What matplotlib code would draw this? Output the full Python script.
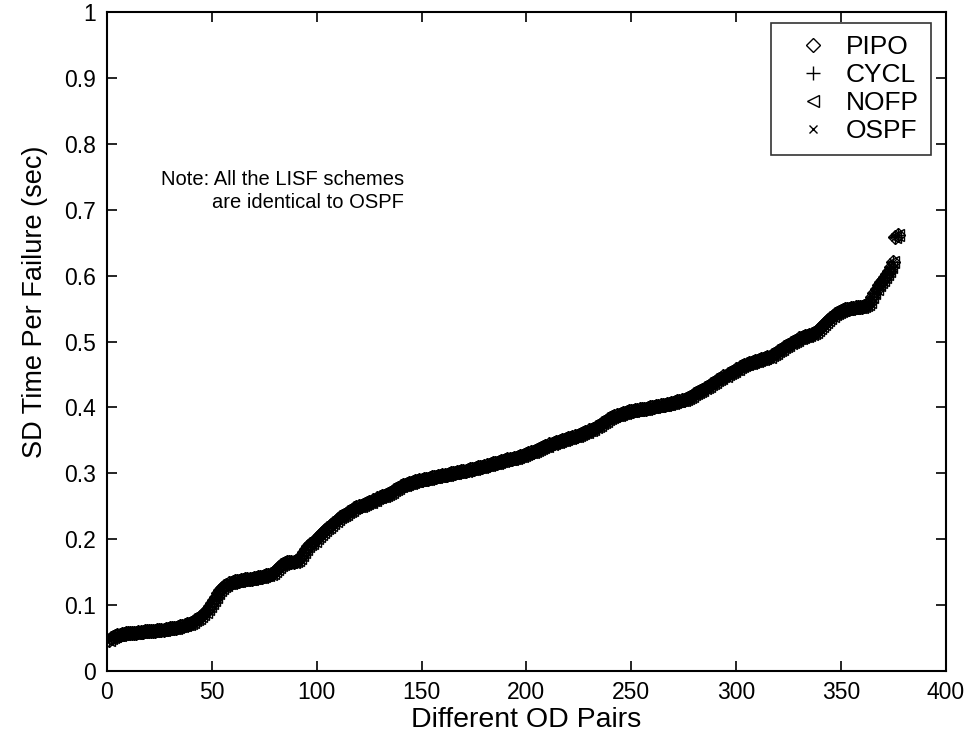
import matplotlib
matplotlib.use("Agg")
import matplotlib.pyplot as plt
import numpy as np

plt.rcParams['font.family'] = ['Liberation Sans', 'DejaVu Sans']

# sorted SD time per failure for each OD pair (sec)
sd_time = [
    0.047, 0.050, 0.052, 0.053, 0.054, 0.055, 0.056, 0.056, 0.057, 0.057,
    0.057, 0.058, 0.058, 0.058, 0.059, 0.059, 0.059, 0.060, 0.060, 0.060,
    0.061, 0.061, 0.061, 0.062, 0.062, 0.063, 0.063, 0.064, 0.064, 0.065,
    0.065, 0.066, 0.066, 0.067, 0.068, 0.069, 0.070, 0.071, 0.072, 0.073,
    0.075, 0.077, 0.079, 0.081, 0.084, 0.087, 0.090, 0.094, 0.098, 0.103,
    0.108, 0.113, 0.118, 0.123, 0.126, 0.129, 0.131, 0.133, 0.134, 0.135,
    0.136, 0.137, 0.137, 0.138, 0.138, 0.139, 0.139, 0.140, 0.140, 0.141,
    0.141, 0.142, 0.143, 0.143, 0.144, 0.145, 0.146, 0.147, 0.149, 0.152,
    0.155, 0.158, 0.161, 0.163, 0.164, 0.165, 0.165, 0.166, 0.166, 0.167,
    0.169, 0.172, 0.176, 0.180, 0.185, 0.189, 0.192, 0.195, 0.198, 0.202,
    0.205, 0.208, 0.211, 0.214, 0.217, 0.219, 0.222, 0.224, 0.227, 0.230,
    0.233, 0.235, 0.237, 0.239, 0.241, 0.243, 0.245, 0.247, 0.249, 0.250,
    0.251, 0.252, 0.253, 0.255, 0.256, 0.257, 0.259, 0.260, 0.262, 0.264,
    0.265, 0.266, 0.267, 0.269, 0.270, 0.272, 0.274, 0.276, 0.278, 0.280,
    0.282, 0.283, 0.284, 0.285, 0.286, 0.287, 0.288, 0.289, 0.290, 0.290,
    0.291, 0.292, 0.292, 0.293, 0.294, 0.294, 0.295, 0.296, 0.296, 0.297,
    0.297, 0.298, 0.299, 0.300, 0.300, 0.301, 0.302, 0.302, 0.303, 0.304,
    0.304, 0.305, 0.306, 0.307, 0.307, 0.308, 0.309, 0.310, 0.310, 0.311,
    0.312, 0.313, 0.314, 0.315, 0.315, 0.316, 0.317, 0.318, 0.319, 0.320,
    0.321, 0.321, 0.322, 0.323, 0.324, 0.325, 0.326, 0.327, 0.328, 0.330,
    0.331, 0.332, 0.333, 0.334, 0.336, 0.337, 0.338, 0.340, 0.341, 0.342,
    0.344, 0.345, 0.346, 0.347, 0.348, 0.349, 0.350, 0.351, 0.352, 0.353,
    0.354, 0.355, 0.356, 0.357, 0.358, 0.359, 0.361, 0.362, 0.363, 0.365,
    0.366, 0.368, 0.370, 0.372, 0.374, 0.376, 0.378, 0.380, 0.382, 0.384,
    0.386, 0.387, 0.388, 0.389, 0.390, 0.391, 0.392, 0.393, 0.394, 0.395,
    0.395, 0.396, 0.396, 0.397, 0.397, 0.398, 0.398, 0.399, 0.400, 0.401,
    0.401, 0.402, 0.402, 0.403, 0.403, 0.404, 0.405, 0.405, 0.406, 0.407,
    0.408, 0.409, 0.410, 0.411, 0.412, 0.413, 0.414, 0.416, 0.418, 0.420,
    0.422, 0.423, 0.425, 0.427, 0.429, 0.431, 0.433, 0.435, 0.437, 0.439,
    0.441, 0.443, 0.445, 0.447, 0.448, 0.450, 0.452, 0.454, 0.456, 0.458,
    0.459, 0.461, 0.463, 0.464, 0.466, 0.467, 0.468, 0.469, 0.470, 0.471,
    0.472, 0.473, 0.474, 0.475, 0.476, 0.477, 0.479, 0.481, 0.483, 0.485,
    0.487, 0.489, 0.491, 0.493, 0.495, 0.497, 0.499, 0.501, 0.503, 0.505,
    0.506, 0.507, 0.508, 0.509, 0.510, 0.511, 0.513, 0.515, 0.517, 0.520,
    0.523, 0.526, 0.529, 0.532, 0.535, 0.538, 0.541, 0.543, 0.545, 0.547,
    0.548, 0.549, 0.550, 0.550, 0.551, 0.551, 0.552, 0.552, 0.553, 0.553,
    0.554, 0.555, 0.557, 0.560, 0.567, 0.574, 0.580, 0.586, 0.590, 0.594,
    0.598, 0.602, 0.607, 0.613, 0.621, 0.658, 0.662,
]
od_pair = np.arange(1, len(sd_time) + 1)

# every scheme gives the same curve here
schemes = ["PIPO", "CYCL", "NOFP", "OSPF"]
markers = ["D", "+", "<", "x"]
sizes = [7, 10, 8, 6]

fig = plt.figure(figsize=(9.68, 7.40), dpi=100)
ax = fig.add_axes([0.1105, 0.0932, 0.8665, 0.8906])

for name, m, ms in zip(schemes, markers, sizes):
    ax.plot(od_pair, sd_time, ls="none", marker=m, ms=ms, mfc="none",
            mec="black", mew=1.0, label=name)

ax.set_xlim(0, 400)
ax.set_ylim(0, 1)
ax.set_xticks(range(0, 401, 50))
ax.set_yticks(np.arange(0, 1.01, 0.1))
ax.set_yticklabels(["0", "0.1", "0.2", "0.3", "0.4", "0.5", "0.6", "0.7", "0.8", "0.9", "1"])
ax.tick_params(direction="in", top=True, right=True, length=7, width=1.2, labelsize=16.5)
ax.tick_params(axis="y", pad=8)
ax.tick_params(axis="x", pad=7)
for s in ax.spines.values():
    s.set_linewidth(1.5)

ax.set_xlabel("Different OD Pairs", fontsize=20.5, labelpad=2)
ax.set_ylabel("SD Time Per Failure (sec)", fontsize=19.5)
ax.yaxis.set_label_coords(-0.07, 0.56)

ax.text(141.5, 0.728, "Note: All the LISF schemes\nare identical to OSPF",
        ha="right", va="center", fontsize=14.5, linespacing=1.3)

leg = ax.legend(loc="upper right", bbox_to_anchor=(0.982, 0.983),
                borderaxespad=0, fontsize=19, frameon=True, fancybox=False,
                edgecolor="black", handletextpad=0.05, labelspacing=0.15,
                borderpad=0.45, markerscale=1.0, handlelength=2.35)
leg.get_frame().set_linewidth(1.2)

fig.savefig("out.png", dpi=100)
